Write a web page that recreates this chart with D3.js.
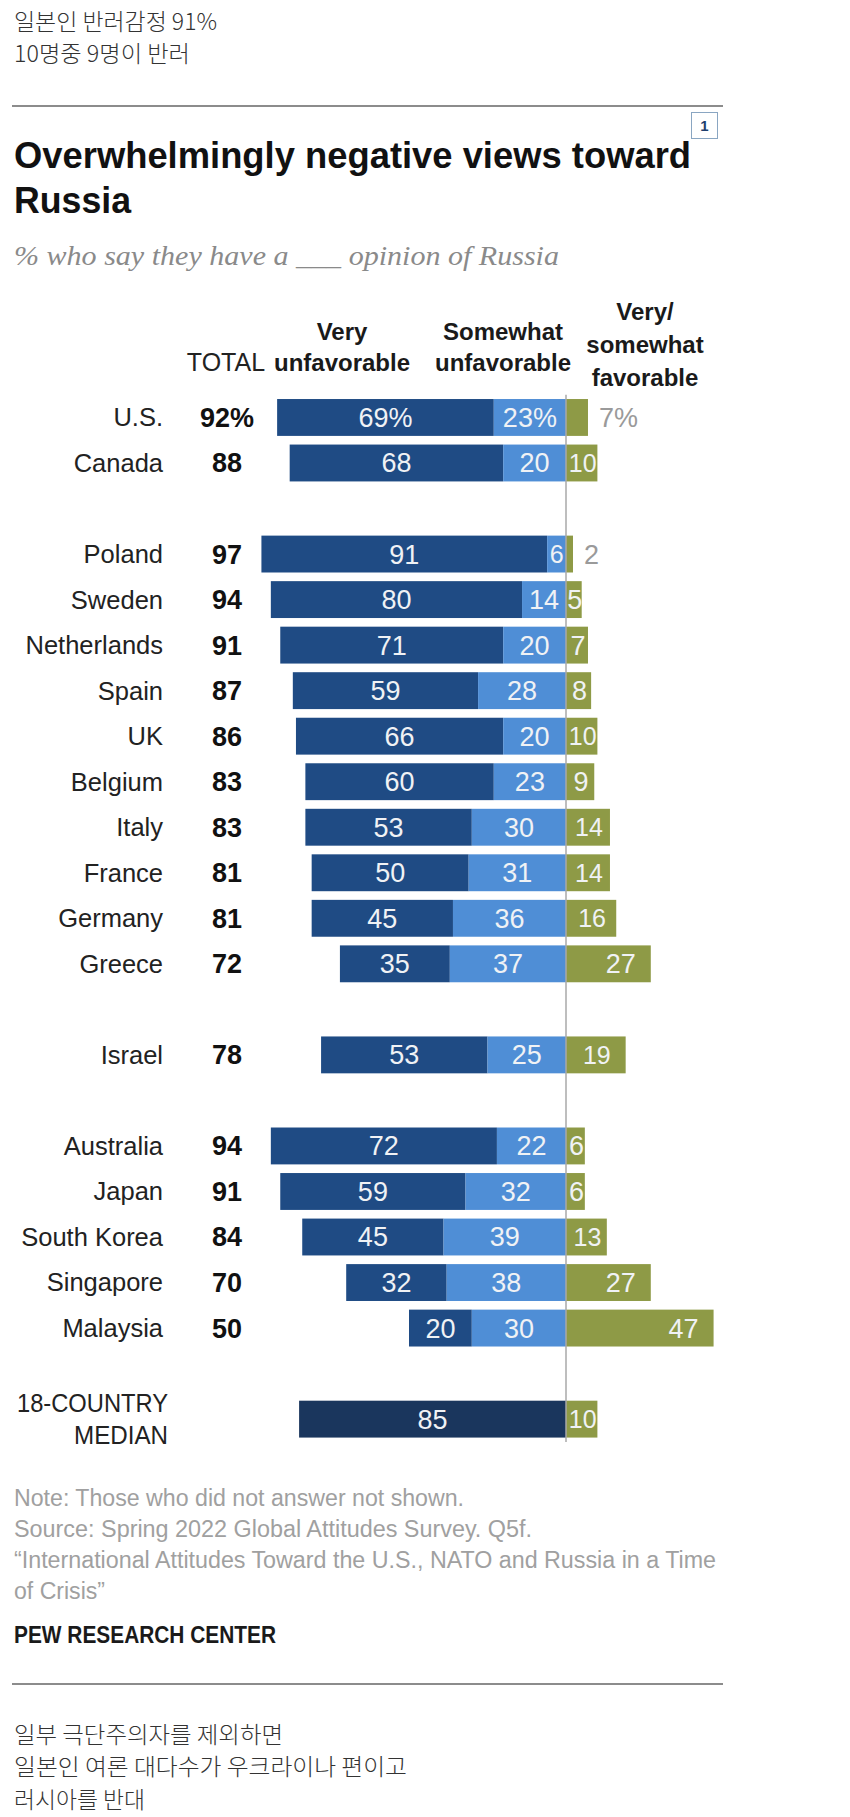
<!DOCTYPE html>
<html>
<head>
<meta charset="utf-8">
<script src="https://cdn.jsdelivr.net/npm/d3@7"></script>
<style>
  html, body { margin: 0; padding: 0; background: #fff; }
  svg { display: block; }
</style>
</head>
<body>
<svg id="chart" width="850" height="1817"></svg>
<script>
// ---------------- DATA ----------------
const countries = ["U.S.", "Canada", "Poland", "Sweden", "Netherlands", "Spain", "UK", "Belgium",
  "Italy", "France", "Germany", "Greece", "Israel", "Australia", "Japan", "South Korea", "Singapore", "Malaysia"];
const groupIndex = [0, 0, 1, 1, 1, 1, 1, 1, 1, 1, 1, 1, 2, 3, 3, 3, 3, 3];
const totals = [92, 88, 97, 94, 91, 87, 86, 83, 83, 81, 81, 72, 78, 94, 91, 84, 70, 50];
const veryUnfavorable = [69, 68, 91, 80, 71, 59, 66, 60, 53, 50, 45, 35, 53, 72, 59, 45, 32, 20];
const somewhatUnfavorable = [23, 20, 6, 14, 20, 28, 20, 23, 30, 31, 36, 37, 25, 22, 32, 39, 38, 30];
const favorable = [7, 10, 2, 5, 7, 8, 10, 9, 14, 14, 16, 27, 19, 6, 6, 13, 27, 47];
const medianLabel = ["18-COUNTRY", "MEDIAN"];
const medianUnfavorable = 85;
const medianFavorable = 10;

const headerTotal = "TOTAL";
const headerVery = ["Very", "unfavorable"];
const headerSomewhat = ["Somewhat", "unfavorable"];
const headerFav = ["Very/", "somewhat", "favorable"];

const koreanTop = ["일본인 반러감정 91%", "10명중 9명이 반러"];
const koreanBottom = ["일부 극단주의자를 제외하면", "일본인 여론 대다수가 우크라이나 편이고", "러시아를 반대"];
const titleLines = ["Overwhelmingly negative views toward", "Russia"];
const subtitle = "% who say they have a ___ opinion of Russia";
const notes = ["Note: Those who did not answer not shown.",
  "Source: Spring 2022 Global Attitudes Survey. Q5f.",
  "\u201CInternational Attitudes Toward the U.S., NATO and Russia in a Time",
  "of Crisis\u201D"];
const credit = "PEW RESEARCH CENTER";

// ---------------- STYLE ----------------
const C = {
  very: "#1f4b84",
  some: "#4f8ed6",
  fav: "#8e9a46",
  median: "#1a365d",
  zero: "#a8a8a8",
  text: "#222",
  gray: "#9a9a9a"
};
const SANS = "'Liberation Sans', Arial, sans-serif";
const NARROW = "'Liberation Sans Narrow', 'Liberation Sans', Arial, sans-serif";
const KR = "'Noto Sans CJK KR', sans-serif";

const svg = d3.select("#chart");
svg.append("rect").attr("width", 850).attr("height", 1817).attr("fill", "#fff");

function txt(x, y, s, o = {}) {
  const t = svg.append("text").attr("x", x).attr("y", y).text(s)
    .attr("font-family", o.family || SANS)
    .attr("font-size", o.size || 25)
    .attr("font-weight", o.weight || "normal")
    .attr("fill", o.fill || C.text)
    .attr("text-anchor", o.anchor || "start")
    .attr("dy", o.dy == null ? "0.35em" : o.dy);
  if (o.style) t.attr("font-style", o.style);
  if (o.len) t.attr("textLength", o.len).attr("lengthAdjust", "spacingAndGlyphs");
  return t;
}

// Korean intro
const krTopY = [22, 54];
const krTopLens = [203, 176];
koreanTop.forEach((s, i) => txt(14, krTopY[i], s, { family: KR, size: 23, fill: "#333", weight: 300, len: krTopLens[i] }));

// rules
svg.append("line").attr("x1", 12).attr("x2", 723).attr("y1", 106).attr("y2", 106)
  .attr("stroke", "#8c8c8c").attr("stroke-width", 2);
svg.append("line").attr("x1", 12).attr("x2", 723).attr("y1", 1684).attr("y2", 1684)
  .attr("stroke", "#8c8c8c").attr("stroke-width", 2);

// "1" box
svg.append("rect").attr("x", 691.5).attr("y", 112.5).attr("width", 26).attr("height", 26)
  .attr("fill", "#fff").attr("stroke", "#8aa6c2").attr("stroke-width", 1);
txt(704.5, 126, "1", { size: 15, weight: "bold", fill: "#1f3f6e", anchor: "middle" });

// Title
txt(14, 168, titleLines[0], { family: NARROW, size: 36, weight: "bold", fill: "#111", dy: 0, len: 677 });
txt(14, 213, titleLines[1], { family: NARROW, size: 36, weight: "bold", fill: "#111", dy: 0, len: 117 });
// Subtitle
txt(14, 256, subtitle, { family: "'Liberation Serif', 'DejaVu Serif', serif", size: 27, style: "italic", fill: "#8a8a8a", len: 545 });

// ---------------- SCALES ----------------
const slots = countries.map((c, i) => i + groupIndex[i]);
const medianSlot = 22;
const y = d3.scaleBand().domain(d3.range(23)).range([394.7, 1441.9]).paddingInner(0.19).paddingOuter(0.095);
const x = d3.scaleLinear().domain([-100, 100]).range([252, 880]);
const bw = y.bandwidth();
const cy = s => y(s) + bw / 2;

// Headers
txt(226, 362, headerTotal, { family: NARROW, size: 25, anchor: "middle", fill: "#222" });
headerVery.forEach((s, i) => txt(342, 332 + i * 31, s, { size: 24, weight: "bold", anchor: "middle", fill: "#1a1a1a" }));
headerSomewhat.forEach((s, i) => txt(503, 332 + i * 31, s, { size: 24, weight: "bold", anchor: "middle", fill: "#1a1a1a" }));
headerFav.forEach((s, i) => txt(645, 312 + i * 33, s, { size: 24, weight: "bold", anchor: "middle", fill: "#1a1a1a" }));

// Rows
const rows = countries.map((c, i) => ({
  name: c, slot: slots[i], total: totals[i], very: veryUnfavorable[i],
  some: somewhatUnfavorable[i], fav: favorable[i], pct: i === 0 ? "%" : ""
}));

const LBL = 27;
const g = svg.append("g");
// very unfavorable
g.selectAll("rect.very").data(rows).join("rect").attr("class", "very")
  .attr("x", d => x(-(d.very + d.some))).attr("width", d => x(-d.some) - x(-(d.very + d.some)))
  .attr("y", d => y(d.slot)).attr("height", bw).attr("fill", C.very);
// somewhat unfavorable
g.selectAll("rect.some").data(rows).join("rect").attr("class", "some")
  .attr("x", d => x(-d.some)).attr("width", d => x(0) - x(-d.some))
  .attr("y", d => y(d.slot)).attr("height", bw).attr("fill", C.some);
// favorable
g.selectAll("rect.fav").data(rows).join("rect").attr("class", "fav")
  .attr("x", x(0)).attr("width", d => Math.max(x(d.fav) - x(0), 7))
  .attr("y", d => y(d.slot)).attr("height", bw).attr("fill", C.fav);

// labels
rows.forEach(d => {
  const yy = cy(d.slot);
  txt(163, yy, d.name, { size: 25.5, anchor: "end", fill: "#222" });
  txt(227, yy, d.total + d.pct, { size: 27, weight: "bold", anchor: "middle", fill: "#111" });
  txt((x(-(d.very + d.some)) + x(-d.some)) / 2, yy, d.very + d.pct, { size: LBL, anchor: "middle", fill: "#f0f2f5" });
  txt((x(-d.some) + x(0)) / 2, yy, d.some + d.pct, { size: d.some < 10 ? 25 : LBL, anchor: "middle", fill: "#f0f2f5" });
  const favEnd = x(0) + Math.max(x(d.fav) - x(0), 7);
  if (d.fav <= 2 || d.pct) {
    txt(favEnd + 11, yy, d.fav + d.pct, { size: LBL, anchor: "start", fill: C.gray });
  } else if (d.fav >= 20) {
    txt(favEnd - 15, yy, d.fav, { size: LBL, anchor: "end", fill: "#f0f2f5" });
  } else {
    txt((x(0) + favEnd) / 2 + 1, yy, d.fav, { size: d.fav >= 10 ? 25 : LBL, anchor: "middle", fill: "#f0f2f5" });
  }
});

// Median row
const my = cy(medianSlot);
svg.append("rect").attr("x", x(-medianUnfavorable)).attr("width", x(0) - x(-medianUnfavorable))
  .attr("y", y(medianSlot)).attr("height", bw).attr("fill", C.median);
svg.append("rect").attr("x", x(0)).attr("width", x(medianFavorable) - x(0))
  .attr("y", y(medianSlot)).attr("height", bw).attr("fill", C.fav);
txt((x(-medianUnfavorable) + x(0)) / 2, my, medianUnfavorable, { size: LBL, anchor: "middle", fill: "#f0f2f5" });
txt((x(0) + x(medianFavorable)) / 2 + 1, my, medianFavorable, { size: 25, anchor: "middle", fill: "#f0f2f5" });
const medLens = [151, 94];
medianLabel.forEach((s, i) => txt(168, 1403 + i * 32, s, { size: 25, anchor: "end", fill: "#222", family: NARROW, len: medLens[i] }));

// zero line
svg.append("line").attr("x1", x(0)).attr("x2", x(0)).attr("y1", y.range()[0]).attr("y2", y.range()[1])
  .attr("stroke", C.zero).attr("stroke-width", 1.5);

// Notes
const noteLens = [450, 518, 702, 91];
notes.forEach((s, i) => txt(14, 1498 + i * 31, s, { family: NARROW, size: 23, fill: "#a0a0a0", len: noteLens[i] }));
txt(14, 1635, credit, { family: NARROW, size: 23, weight: "bold", fill: "#1a1a1a", len: 262 });

// Korean outro
const krBotY = [1735, 1767, 1800];
const krBotLens = [269, 393, 131];
koreanBottom.forEach((s, i) => txt(14, krBotY[i], s, { family: KR, size: 23, fill: "#333", weight: 300, len: krBotLens[i] }));
</script>
</body>
</html>
